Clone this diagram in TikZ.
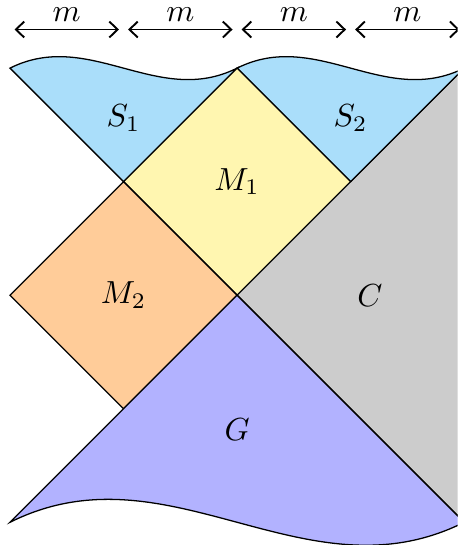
\documentclass[tikz,border=0pt]{standalone}
\usetikzlibrary{arrows.meta}
\definecolor{sreg}{RGB}{170,222,250}
\definecolor{mone}{RGB}{255,246,176}
\definecolor{mtwo}{RGB}{255,204,153}
\definecolor{creg}{RGB}{204,204,204}
\definecolor{greg}{RGB}{178,178,255}
\tikzset{
  region/.style={draw=black, line join=miter},
  span/.style={{Straight Barb[length=2.6pt,width=5pt]}-{Straight Barb[length=2.6pt,width=5pt]}, semithick},
  lbl/.style={inner sep=0pt}
}
\begin{document}
\begin{tikzpicture}[x=1.25cm,y=1.25cm]
\clip (-0.088,-2.2) rectangle (3.942,2.6);
% regions
\fill[creg] (2,0) -- (4,2) -- (4.4,2) -- (4.4,-2) -- (4,-2) -- cycle;
\draw (3,1) -- (4,2);
\draw (2,0) -- (4,-2);
\filldraw[region, fill=sreg] (0,2) .. controls (0.7,2.35) and (1.3,1.65) .. (2,2) -- (1,1) -- cycle;
\filldraw[region, fill=sreg] (2,2) .. controls (2.7,2.35) and (3.3,1.65) .. (4,2) -- (3,1) -- cycle;
\filldraw[region, fill=mone] (1,1) -- (2,2) -- (3,1) -- (2,0) -- cycle;
\filldraw[region, fill=mtwo] (0,0) -- (1,1) -- (2,0) -- (1,-1) -- cycle;
\filldraw[region, fill=greg] (2,0) -- (1,-1) -- (0,-2) .. controls (1.4,-1.3) and (2.6,-2.7) .. (4,-2) -- cycle;
% labels
\node[lbl] (s1) at (1,1.56) {$S_1$};
\node[lbl] (s2) at (3,1.56) {$S_2$};
\node[lbl] (m1) at (2,1) {$M_1$};
\node[lbl] (m2) at (1,0) {$M_2$};
\node[lbl] (c) at (3.17,0) {$C$};
\node[lbl] (g) at (2,-1.18) {$G$};
% spans
\foreach \i in {0,1,2,3}{
  \coordinate (a\i) at (\i+0.04,2.34);
  \coordinate (b\i) at (\i+0.96,2.34);
  \draw[span] (a\i) -- (b\i);
  \node[lbl] (mm\i) at (\i+0.5,2.475) {$m$};
}
\end{tikzpicture}
\end{document}
